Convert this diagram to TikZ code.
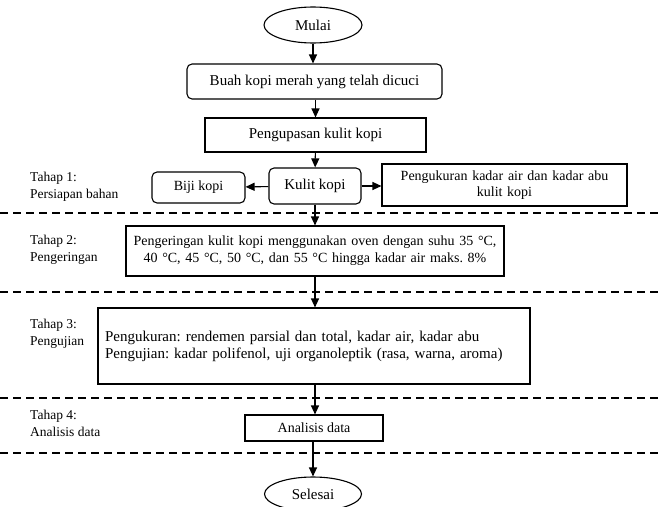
\documentclass[tikz,border=0pt]{standalone}
\usepackage{fontspec}
\setmainfont{Liberation Serif}
\usetikzlibrary{shapes.geometric,arrows.meta}
\frenchspacing
\begin{document}
\begin{tikzpicture}[x=1pt,y=-1pt,
  every node/.style={inner sep=2pt},
  base/.style={draw, line width=1.1pt, font=\fontsize{15}{17}\selectfont, align=center},
  rbox/.style={base, rounded corners=5pt},
  sbox/.style={base},
  oval/.style={base, ellipse},
  lab/.style={anchor=north west, align=left, font=\fontsize{13.5}{16.5}\selectfont},
  arr/.style={line width=1.1pt, -{Triangle[length=9pt,width=8pt]}},
  sep/.style={line width=1.1pt, dash pattern=on 8pt off 5pt}]
\useasboundingbox (0,0) rectangle (663,506);
\node[oval, minimum width=98pt, minimum height=36pt] (mulai) at (313,25) {Mulai};
\node[rbox, minimum width=255pt, minimum height=35pt] (buah) at (314.5,81.5) {Buah kopi merah yang telah dicuci};
\node[sbox, minimum width=221pt, minimum height=34pt] (kupas) at (315.5,135) {Pengupasan kulit kopi};
\node[rbox, minimum width=92pt, minimum height=36pt] (kulit) at (315,186) {Kulit kopi};
\node[rbox, minimum width=93pt, minimum height=31pt, font=\fontsize{14}{16}\selectfont] (biji) at (198.5,187.5) {Biji kopi};
\node[sbox, minimum width=245pt, minimum height=42pt, text width=238pt, font=\fontsize{14}{16}\selectfont] (ukur) at (504.5,185) {Pengukuran kadar air dan kadar abu\\kulit kopi};
\node[sbox, minimum width=378pt, minimum height=50pt, text width=370pt, font=\fontsize{14}{17}\selectfont] (kering) at (315,251) {Pengeringan kulit kopi menggunakan oven dengan suhu 35 °C,\\40 °C, 45 °C, 50 °C, dan 55 °C hingga kadar air maks. 8\%};
\node[sbox, minimum width=432pt, minimum height=76pt, text width=418pt, align=left] (uji) at (314,346) {Pengukuran: rendemen parsial dan total, kadar air, kadar abu\\Pengujian: kadar polifenol, uji organoleptik (rasa, warna, aroma)};
\node[sbox, minimum width=138pt, minimum height=26pt, font=\fontsize{14}{16}\selectfont] (analisis) at (314,428) {Analisis data};
\node[oval, minimum width=97pt, minimum height=34pt] (selesai) at (313,494) {Selesai};

\node[lab] (t1) at (28,170) {Tahap 1:\\Persiapan bahan};
\node[lab] (t2) at (28,233) {Tahap 2:\\Pengeringan};
\node[lab] (t3) at (28,317) {Tahap 3:\\Pengujian};
\node[lab] (t4) at (28,408) {Tahap 4:\\Analisis data};

\coordinate (d1a) at (0,213); \coordinate (d1b) at (663,213);
\coordinate (d2a) at (0,292); \coordinate (d2b) at (663,292);
\coordinate (d3a) at (0,398); \coordinate (d3b) at (663,398);
\coordinate (d4a) at (0,453); \coordinate (d4b) at (663,453);
\draw[sep] (d1a) -- (d1b);
\draw[sep] (d2a) -- (d2b);
\draw[sep] (d3a) -- (d3b);
\draw[sep] (d4a) -- (d4b);

\draw[arr] (mulai.south) -- (mulai.south |- buah.north);
\draw[arr] (kupas.north |- buah.south) -- (kupas.north);
\draw[arr] (kupas) -- (kulit);
\draw[arr] (kulit) -- (biji);
\draw[arr] (kulit) -- (kulit.east -| ukur.west);
\draw[arr] (kulit.south) -- (kulit.south |- kering.north);
\draw[arr] (kulit.south |- kering.south) -- (kulit.south |- uji.north);
\draw[arr] (kulit.south |- uji.south) -- (kulit.south |- analisis.north);
\draw[arr] (selesai.north |- analisis.south) -- (selesai.north);
\end{tikzpicture}
\end{document}
